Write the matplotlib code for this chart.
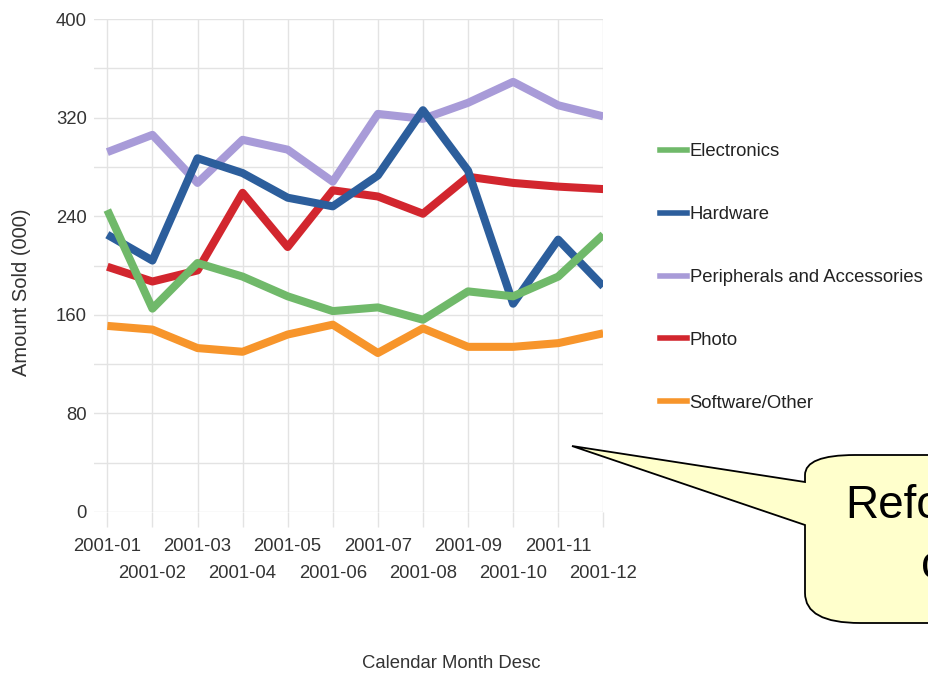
import matplotlib
matplotlib.use("Agg")
import matplotlib.pyplot as plt
from matplotlib.path import Path
from matplotlib.patches import PathPatch
from matplotlib.lines import Line2D

plt.rcParams['font.family'] = ['Liberation Sans', 'DejaVu Sans']

months = ['2001-01', '2001-02', '2001-03', '2001-04', '2001-05', '2001-06',
          '2001-07', '2001-08', '2001-09', '2001-10', '2001-11', '2001-12']
electronics = [245, 165, 202, 191, 175, 163, 166, 156, 179, 175, 191, 225]
hardware = [225, 204, 287, 275, 255, 248, 273, 326, 277, 169, 221, 183]
peripherals = [292, 306, 267, 302, 294, 268, 323, 319, 332, 349, 330, 321]
photo = [199, 187, 196, 259, 215, 261, 256, 242, 272, 267, 264, 262]
software = [151, 148, 133, 130, 144, 152, 129, 149, 134, 134, 137, 145]

legend_names = ['Electronics', 'Hardware', 'Peripherals and Accessories', 'Photo', 'Software/Other']
colors = {'Electronics': '#70b96a', 'Hardware': '#2c5e9c',
          'Peripherals and Accessories': '#a89bd8', 'Photo': '#d2262e',
          'Software/Other': '#f7952b'}
series = {'Electronics': electronics, 'Hardware': hardware,
          'Peripherals and Accessories': peripherals, 'Photo': photo,
          'Software/Other': software}
draw_order = ['Photo', 'Peripherals and Accessories', 'Hardware', 'Electronics', 'Software/Other']

W, H = 929, 675
fig = plt.figure(figsize=(W / 100, H / 100), dpi=100)

x0, x1 = 93.8, 603.3
ytop, ybot = 19.0, 512.0
ax = fig.add_axes([x0 / W, 1 - ybot / H, (x1 - x0) / W, (ybot - ytop) / H])

xs = list(range(len(months)))
for name in draw_order:
    ax.plot(xs, series[name], color=colors[name], lw=5.8,
            solid_joinstyle='round', solid_capstyle='butt')

ax.set_xlim(-0.3, 11)
ax.set_ylim(0, 400)
ax.set_yticks([0, 80, 160, 240, 320, 400])
ax.set_yticks([40, 120, 200, 280, 360], minor=True)
ax.set_xticks(xs)
ax.set_xticklabels(months)
for s in ax.spines.values():
    s.set_visible(False)
gridc = '#e3e3e3'
ax.grid(True, which='both', color=gridc, lw=1.0)
ax.set_axisbelow(True)
ax.tick_params(axis='y', which='both', length=0, pad=5, labelsize=13.3, labelcolor='#333333')
ax.tick_params(axis='x', length=11, color=gridc, width=1.0, pad=8, labelsize=13.3,
               labelcolor='#333333')
for i, t in enumerate(ax.xaxis.get_major_ticks()):
    if i % 2 == 1:
        t.set_pad(8 + 19.5)

handles = [Line2D([0], [0], color=colors[n], lw=4) for n in legend_names]
leg = fig.legend(handles, legend_names, loc='center left',
                 bbox_to_anchor=(660 / W, 1 - 277.5 / H), bbox_transform=fig.transFigure,
                 frameon=False, fontsize=13.3, handlelength=1.45, handletextpad=0.15,
                 labelspacing=2.48, borderpad=0, borderaxespad=0)
for t in leg.get_texts():
    t.set_color('#222222')

fig.text(451 / W, 1 - 663 / H, 'Calendar Month Desc', ha='center', va='center',
         fontsize=13.3, color='#333333')
fig.text(22 / W, 1 - 292 / H, 'Amount Sold (000)', ha='center', va='center',
         rotation=90, fontsize=14.5, color='#333333')

# callout overlay
ov = fig.add_axes([0, 0, 1, 1], zorder=10)
ov.set_xlim(0, W)
ov.set_ylim(H, 0)
ov.axis('off')
verts = [(572, 446), (805, 482), (805, 475),
         (805, 455), (855, 455),
         (945, 455), (945, 623), (860, 623),
         (805, 623), (805, 593),
         (805, 525), (572, 446)]
codes = [Path.MOVETO, Path.LINETO, Path.LINETO,
         Path.CURVE3, Path.CURVE3,
         Path.LINETO, Path.LINETO, Path.LINETO,
         Path.CURVE3, Path.CURVE3,
         Path.LINETO, Path.CLOSEPOLY]
ov.add_patch(PathPatch(Path(verts, codes), facecolor='#ffffcc', edgecolor='black',
                       lw=1.3, joinstyle='miter', clip_on=False))
ov.text(845, 518, 'Refo', fontsize=33, ha='left', va='baseline', color='black')
ov.text(921, 578, 'c', fontsize=33, ha='left', va='baseline', color='black')

fig.savefig('out.png', dpi=100)
